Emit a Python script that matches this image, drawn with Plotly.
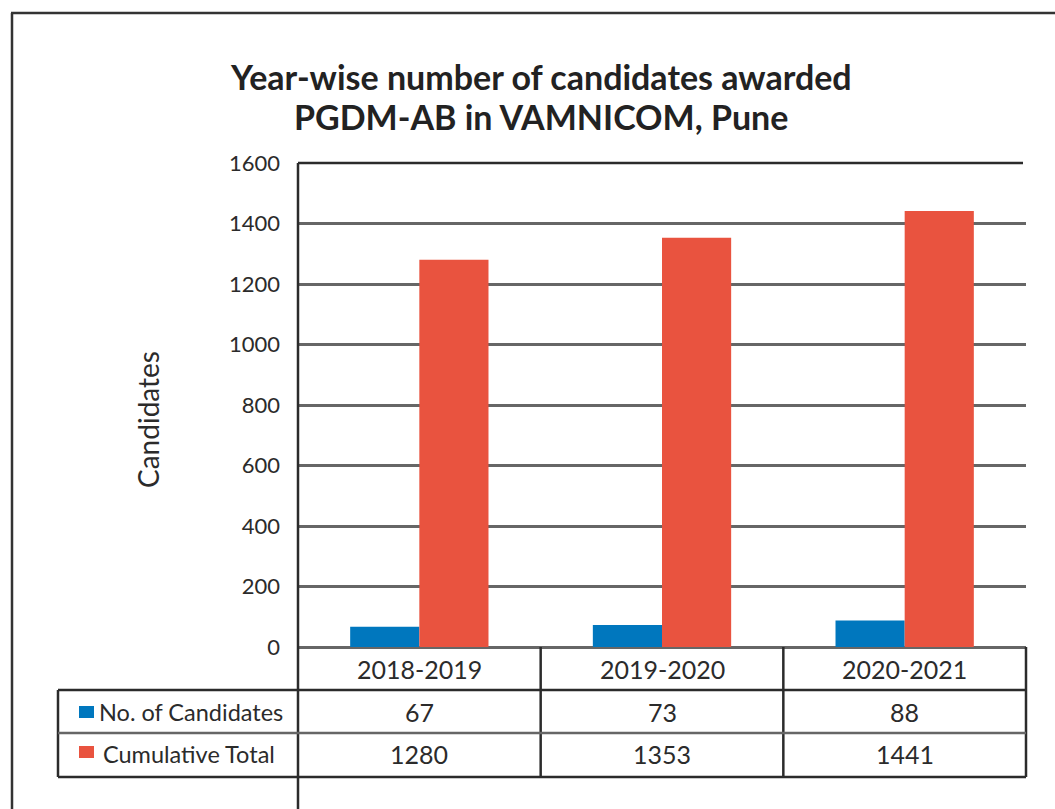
import plotly.graph_objects as go

# ---- data ----
years = ["2018-2019", "2019-2020", "2020-2021"]
candidates = [67, 73, 88]
cumulative = [1280, 1353, 1441]
series_names = ["No. of Candidates", "Cumulative Total"]
y_ticks = [0, 200, 400, 600, 800, 1000, 1200, 1400, 1600]
title_lines = ["Year-wise number of candidates awarded", "PGDM-AB in VAMNICOM, Pune"]

# ---- styles ----
BLUE = "#0077BE"
RED = "#E9533F"
DARK = "#2b2b2b"
GRID = "#666666"
FONT = "Lato"
W, H = 1055, 809
L, R, T, B = 298, 29, 163, 162
PH = H - T - B
PW = W - L - R


def py(pix):
    """pixel y -> paper y"""
    return (H - B - pix) / PH


def px(pix):
    """pixel x -> paper x"""
    return (pix - L) / PW


fig = go.Figure()
fig.add_trace(go.Bar(x=years, y=candidates, name=series_names[0],
                     marker=dict(color=BLUE, line=dict(width=0))))
fig.add_trace(go.Bar(x=years, y=cumulative, name=series_names[1],
                     marker=dict(color=RED, line=dict(width=0))))

shapes = []
# outer frame (left + top edges, running off the page)
shapes.append(dict(type="line", xref="paper", yref="paper", x0=px(12), x1=px(12),
                   y0=py(13), y1=py(830), line=dict(color="#333", width=2.5)))
shapes.append(dict(type="line", xref="paper", yref="paper", x0=px(11), x1=px(1080),
                   y0=py(13), y1=py(13), line=dict(color="#333", width=2.5)))
# top border of plot
shapes.append(dict(type="line", xref="paper", yref="paper", x0=0, x1=px(1023),
                   y0=1, y1=1, line=dict(color=DARK, width=2.5)))
# left axis line running through the table
shapes.append(dict(type="line", xref="paper", yref="paper", x0=0, x1=0,
                   y0=1, y1=py(812), line=dict(color=DARK, width=2.5)))
# category dividers in table
for i in range(len(years) - 1):
    shapes.append(dict(type="line", xref="x", yref="paper", x0=i + 0.5, x1=i + 0.5,
                       y0=0, y1=py(777), line=dict(color=DARK, width=2.5)))
# right border of table
shapes.append(dict(type="line", xref="paper", yref="paper", x0=1, x1=1,
                   y0=0, y1=py(777), line=dict(color=DARK, width=2.5)))
# left border of table rows
shapes.append(dict(type="line", xref="paper", yref="paper", x0=px(58), x1=px(58),
                   y0=py(690), y1=py(777), line=dict(color=DARK, width=2.5)))
# horizontal table lines
shapes.append(dict(type="line", xref="paper", yref="paper", x0=px(58), x1=1,
                   y0=py(690), y1=py(690), line=dict(color=DARK, width=2.5)))
shapes.append(dict(type="line", xref="paper", yref="paper", x0=px(58), x1=1,
                   y0=py(733), y1=py(733), line=dict(color=GRID, width=2.5)))
shapes.append(dict(type="line", xref="paper", yref="paper", x0=px(58), x1=1,
                   y0=py(777), y1=py(777), line=dict(color=DARK, width=2.5)))
# legend swatches
shapes.append(dict(type="rect", xref="paper", yref="paper", x0=px(79), x1=px(94),
                   y0=py(706), y1=py(718), fillcolor=BLUE, line=dict(width=0)))
shapes.append(dict(type="rect", xref="paper", yref="paper", x0=px(79), x1=px(94),
                   y0=py(746), y1=py(758), fillcolor=RED, line=dict(width=0)))

ann = []
for line, yc in zip(title_lines, [76, 116]):
    ann.append(dict(text="<b>" + line + "</b>",
                    xref="paper", yref="paper", x=px(541), y=py(yc), xanchor="center",
                    yanchor="middle", showarrow=False,
                    font=dict(family=FONT, size=34, color="#222")))
ann.append(dict(text="Candidates", xref="paper", yref="paper", x=px(148), y=py(420),
                textangle=-90, showarrow=False, xanchor="center", yanchor="middle",
                font=dict(family=FONT, size=28, color=DARK)))
for i, yr in enumerate(years):
    ann.append(dict(text=yr, xref="x", yref="paper", x=i, y=py(669), showarrow=False,
                    xanchor="center", yanchor="middle",
                    font=dict(family=FONT, size=25, color=DARK)))
    ann.append(dict(text=str(candidates[i]), xref="x", yref="paper", x=i, y=py(712),
                    showarrow=False, xanchor="center", yanchor="middle",
                    font=dict(family=FONT, size=25, color=DARK)))
    ann.append(dict(text=str(cumulative[i]), xref="x", yref="paper", x=i, y=py(754),
                    showarrow=False, xanchor="center", yanchor="middle",
                    font=dict(family=FONT, size=25, color=DARK)))
ann.append(dict(text=series_names[0], xref="paper", yref="paper", x=px(97), y=py(712),
                showarrow=False, xanchor="left", yanchor="middle",
                font=dict(family=FONT, size=23.5, color=DARK)))
ann.append(dict(text=series_names[1], xref="paper", yref="paper", x=px(101), y=py(754),
                showarrow=False, xanchor="left", yanchor="middle",
                font=dict(family=FONT, size=23.5, color=DARK)))

fig.update_layout(
    width=W, height=H,
    margin=dict(l=L, r=R, t=T, b=B, pad=0),
    paper_bgcolor="white", plot_bgcolor="white",
    barmode="group", bargap=0.43, bargroupgap=0,
    showlegend=False,
    shapes=shapes, annotations=ann,
    font=dict(family=FONT, color=DARK),
    xaxis=dict(showticklabels=False, showgrid=False, zeroline=False, showline=False,
               ticks="", range=[-0.5, 2.5], fixedrange=True),
    yaxis=dict(range=[0, 1600], tickvals=y_ticks, showgrid=True, gridcolor=GRID,
               gridwidth=2.5, zeroline=True, zerolinecolor=GRID, zerolinewidth=2.5,
               showline=False, ticks="", ticklabelstandoff=17,
               tickfont=dict(family=FONT, size=22, color=DARK), fixedrange=True),
)

fig.write_html("out.html", config={"displayModeBar": False},
               post_script="document.body.style.margin='0';"
                           "document.body.style.overflow='hidden';")
